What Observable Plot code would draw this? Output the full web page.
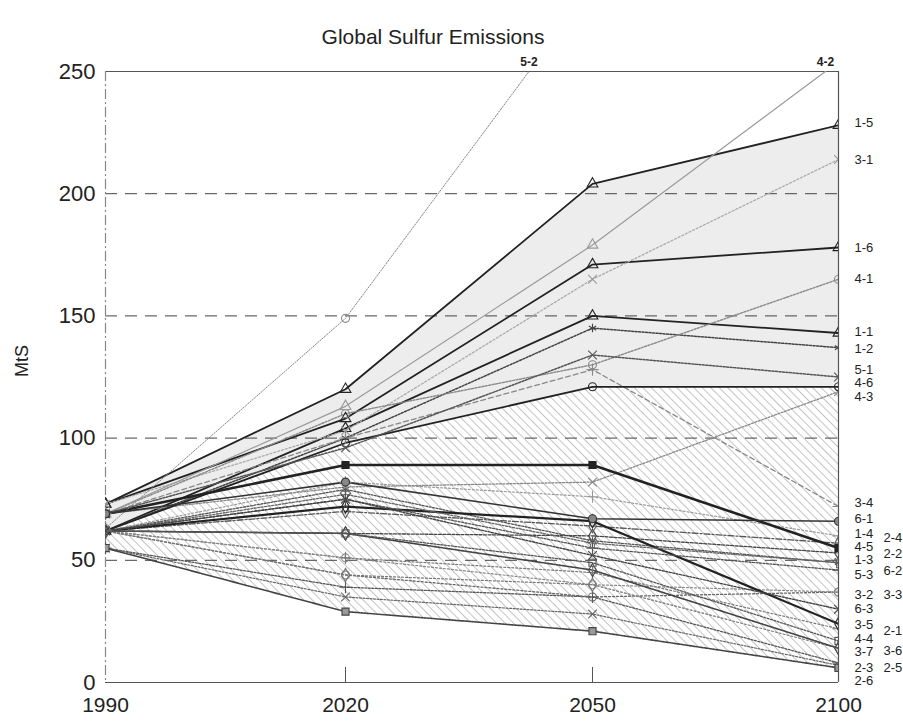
<!DOCTYPE html>
<html><head><meta charset="utf-8">
<script src="https://cdn.jsdelivr.net/npm/d3@7"></script>
<script src="https://cdn.jsdelivr.net/npm/@observablehq/plot@0.6"></script>
<style>body{margin:0;background:#fff;} svg{display:block}</style>
</head><body><div id="chart"></div>
<script>
// ---------- data ----------
const years = [1990, 2020, 2050, 2100];
const yTicks = [0, 50, 100, 150, 200, 250];
const gridValues = [50, 100, 150, 200];
const title = "Global Sulfur Emissions";
const yLabel = "MtS";

const scenarios = ["1-1","1-2","1-3","1-4","1-5","1-6","2-1","2-2","2-3","2-4","2-5","2-6","3-1","3-2","3-3","3-4","3-5","3-6","3-7","4-1","4-2","4-3","4-4","4-5","4-6","5-1","5-2","5-3","6-1","6-2","6-3"];
const v1990 = [62,62,62,62,73,73, 62,62,55,62,55,55, 73,62,62,69,62,62,62, 69,69,69,62,69,62, 69,63,62, 69,62,62];
const v2020 = [104,100,79,82,120,108, 51,61,39,70,35,29, 103,44,51,100,72,44,61, 110,113,80,61,89,98, 96,149,75, 82,77,75];
const v2050 = [150,145,58,76,204,171, 45,60,35,64,28,21, 165,35,40,128,66,40,46, 130,179,82,49,89,121, 134,285,55, 67,57,52];
const v2100 = [143,137,49,60,228,178, 22,53,8,57,7,6, 214,37,37,72,24,14,14, 165,254,119,17,55,121, 125,null,46, 66,49,30];

// right-hand labels (value at which each label sits)
const labelsCol1 = ["1-5","3-1","1-6","4-1","1-1","1-2","5-1","4-6","4-3","3-4","6-1","1-4","4-5","1-3","5-3","3-2","6-3","3-5","4-4","3-7","2-3","2-6"];
const labelsCol1At = [229,214,178,165,143.5,136.5,128,122.5,117,73.5,67,61,55.5,50,44,36,30,23.5,18,12.5,6,0.5];
const labelsCol2 = ["2-4","2-2","6-2","3-3","2-1","3-6","2-5"];
const labelsCol2At = [59,52.5,45.5,36,21,13,6];
const topLabels = ["5-2","4-2"];

// envelope scenarios for shaded ranges
const upperTop = "1-5", middle = "4-6", lowerBottom = "2-6";

// ---------- styles ----------
const styleStroke = ["#222","#444","#555","#999","#222","#222", "#777","#444","#555","#555","#666","#444", "#aaa","#666","#888","#888","#222","#777","#444", "#888","#999","#888","#555","#222","#222", "#555","#888","#555", "#333","#666","#444"];
const styleDash = [null,"2,1.5","2,1.5","2,2",null,null, "2,2","3,1.5","2,1.5","6,2,2,2","2,1.5","2,1", "2,2","2,2","2,2","5,3",null,"2,2","2,1", "2,1.5",null,"2,1.5","2,1.5",null,null, "2,1.5","1.5,1.5","2,1.5", null,"2,1.5","2,1.5"];
const styleWidth = [1.8,1.5,1.3,1.2,1.8,1.8, 1.2,1.3,1.3,1.3,1.2,1.6, 1.3,1.3,1.2,1.3,2.2,1.2,1.6, 1.4,1.2,1.3,1.3,2.6,1.8, 1.5,1.0,1.3, 1.6,1.3,1.4];
const styleSymbol = ["triangle","asterisk","asterisk","plus","triangle","triangle", "plus","diamond","plus","diamond","times","square", "times","circle","circle","plus","diamond","diamond","diamond", "circle","triangle","times","square","square","circle", "times","circle","plus", "circle","wye","times"];
const styleFill = ["none","none","none","none","none","none", "none","none","none","none","none","#999", "none","none","none","none","none","none","none", "none","none","none","none","#222","none", "none","none","none", "#888","none","none"];

// ---------- build tables ----------
const valueCols = [v1990, v2020, v2050, v2100];
const rows = [];
scenarios.forEach((s, i) => years.forEach((yr, j) => {
  const v = valueCols[j][i];
  if (v != null) rows.push({scenario: s, year: yr, value: v});
}));
const idx = s => scenarios.indexOf(s);
const envelope = years.map((yr, j) => ({
  year: yr,
  hi: valueCols[j][idx(upperTop)],
  mid: valueCols[j][idx(middle)],
  lo: valueCols[j][idx(lowerBottom)]
}));
const yMax = yTicks[yTicks.length - 1];
function crossing(s, level) {
  const i = idx(s);
  for (let j = 0; j < years.length - 1; j++) {
    const a = valueCols[j][i], b = valueCols[j + 1][i];
    if (a != null && b != null && a < level && b >= level)
      return years[j] + (level - a) / (b - a) * (years[j + 1] - years[j]);
  }
  return years[years.length - 1];
}
const topLabelRows = topLabels.map(s => ({name: s, year: crossing(s, yMax)}));
const col1Rows = labelsCol1.map((s, i) => ({name: s, value: labelsCol1At[i]}));
const col2Rows = labelsCol2.map((s, i) => ({name: s, value: labelsCol2At[i]}));

const labelFont = "'Liberation Sans', Arial, sans-serif";

const seriesMarks = [];
scenarios.forEach((s, i) => {
  const data = rows.filter(r => r.scenario === s);
  seriesMarks.push(Plot.line(data, {x: "year", y: "value", stroke: styleStroke[i], strokeWidth: styleWidth[i], strokeDasharray: styleDash[i] ?? undefined, clip: true}));
});
scenarios.forEach((s, i) => {
  const data = rows.filter(r => r.scenario === s);
  seriesMarks.push(Plot.dot(data, {x: "year", y: "value", symbol: () => styleSymbol[i], r: 4, stroke: styleStroke[i] === "#aaa" ? "#999" : styleStroke[i], fill: styleFill[i], strokeWidth: 1.1, clip: true}));
});

const plotTop = 71, plotBottom = 682;
const chart = Plot.plot({
  width: 903,
  height: 721,
  marginTop: plotTop,
  marginBottom: 721 - plotBottom,
  marginLeft: 105,
  marginRight: 65,
  style: {fontFamily: "'Liberation Sans', Arial, sans-serif", background: "#fff", color: "#222"},
  x: {type: "linear", domain: years, range: [105, 345, 592, 838]},
  y: {domain: [0, yMax]},
  symbol: {type: "identity"},
  marks: [
    Plot.areaY(envelope, {x: "year", y1: "mid", y2: "hi", fill: "#ededed"}),
    Plot.areaY(envelope, {x: "year", y1: "lo", y2: "mid", fill: "url(#hatch)"}),
    Plot.ruleY(gridValues, {stroke: "#444", strokeDasharray: "12,8", strokeWidth: 1}),
    Plot.ruleY([0, yMax], {stroke: "#555", strokeWidth: 1.2}),
    Plot.ruleX([years[years.length - 1]], {stroke: "#555", strokeWidth: 1.2}),
    Plot.ruleX([years[0]], {stroke: "#888", strokeWidth: 1.2, strokeDasharray: "10,3,2,3"}),
    Plot.ruleX(years.slice(1, 3), {stroke: "#555", strokeWidth: 1, insetTop: (plotBottom - plotTop) - 15}),
    Plot.axisX({ticks: years, tickSize: 0, tickPadding: 15, tickFormat: "d", fontSize: 21, label: null}),
    Plot.axisY({ticks: yTicks, tickSize: 0, tickPadding: 10, fontSize: 22, label: null}),
    ...seriesMarks,
    Plot.text(col1Rows, {x: () => years[3], y: "value", text: "name", dx: 16, textAnchor: "start", fontSize: 13, fontFamily: labelFont, fill: "#222"}),
    Plot.text(col2Rows, {x: () => years[3], y: "value", text: "name", dx: 45, textAnchor: "start", fontSize: 13, fontFamily: labelFont, fill: "#222"}),
    Plot.text(topLabelRows, {x: "year", y: () => yMax, text: "name", dy: -9, textAnchor: "middle", fontSize: 12, fontFamily: labelFont, fontWeight: "bold", fill: "#222"}),
    Plot.text([title], {frameAnchor: "top", lineAnchor: "middle", dx: -39, dy: -34, fontSize: 21, fill: "#222"}),
    Plot.text([yLabel], {frameAnchor: "left", dx: -83, rotate: -90, fontSize: 18, fill: "#222"})
  ]
});

const ns = "http://www.w3.org/2000/svg";
const defs = document.createElementNS(ns, "defs");
defs.innerHTML = '<pattern id="hatch" width="6" height="6" patternUnits="userSpaceOnUse" patternTransform="rotate(-45)"><line x1="0" y1="0" x2="0" y2="6" stroke="#8a8a8a" stroke-width="1"/></pattern>';
chart.insertBefore(defs, chart.firstChild);
document.getElementById("chart").appendChild(chart);
</script>
</body></html>
